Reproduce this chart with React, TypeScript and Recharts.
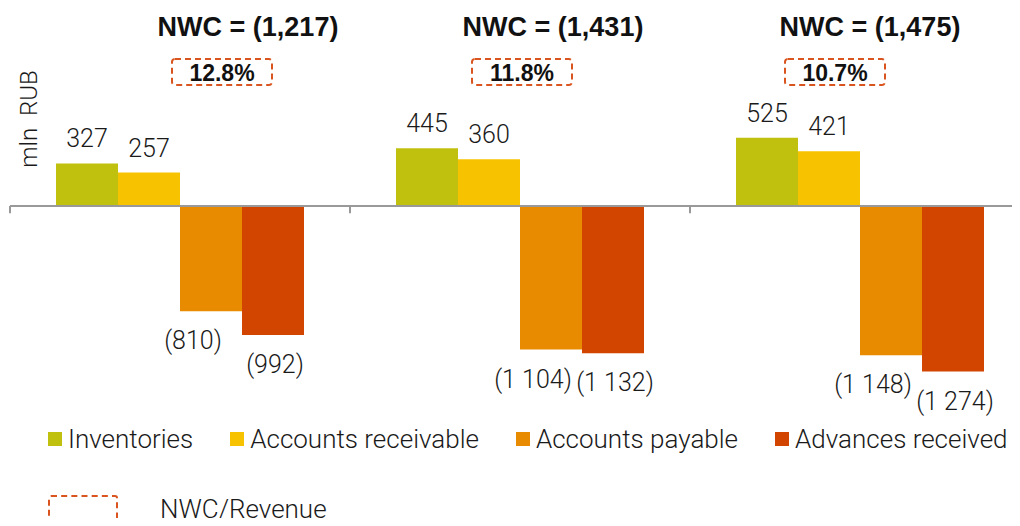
import React from 'react';
import { BarChart, Bar, XAxis, YAxis, ReferenceLine, ReferenceDot, LabelList } from 'recharts';

// periods are not labelled on the slide
const periods = ['Period 1', 'Period 2', 'Period 3'];
const inventories = [327, 445, 525];
const receivables = [257, 360, 421];
const payables = [-810, -1104, -1148];
const advances = [-992, -1132, -1274];
const nwc = [-1217, -1431, -1475];
const nwcToRevenue = [12.8, 11.8, 10.7];

const SERIES = [
  { key: 'inventories', name: 'Inventories', color: '#C0C00F', dx: 0 },
  { key: 'receivables', name: 'Accounts receivable', color: '#F7C300', dx: 0 },
  { key: 'payables', name: 'Accounts payable', color: '#E98B00', dx: -18 },
  { key: 'advances', name: 'Advances received', color: '#D24500', dx: 2 },
];

const data = periods.map((period, i) => ({
  period,
  inventories: inventories[i],
  receivables: receivables[i],
  payables: payables[i],
  advances: advances[i],
}));

// heading / box offsets from the group centre, as on the slide
const HEAD_DX = [68, 33, 10];
const BOX_DX = [42, 2, -25];

const LIGHT = 'Roboto, "Liberation Sans", sans-serif';
const BOLD = '"Liberation Sans", Arial, sans-serif';
const DASH = '#D9541E';

const spaced = (n: number) => String(Math.abs(n)).replace(/\B(?=(\d{3})+(?!\d))/g, ' ');
const commas = (n: number) => String(Math.abs(n)).replace(/\B(?=(\d{3})+(?!\d))/g, ',');

const fmtValue = (v: number) => (v < 0 ? `(${spaced(v)})` : spaced(v));

const renderValue = (dx: number) => (props: any) => {
  const { x, y, width, height, value } = props;
  const top = Math.min(y, y + height);
  const bottom = Math.max(y, y + height);
  const cx = x + width / 2 + (value < 0 ? dx : 0);
  const ty = value < 0 ? bottom + 38 : top - 16;
  return (
    <text x={cx} y={ty} textAnchor="middle" fontFamily={LIGHT} fontWeight={300} fontSize={25} fill="#1a1a1a">
      {fmtValue(value)}
    </text>
  );
};

const heading = (i: number) => (props: any) => {
  const { cx, cy } = props;
  const bx = cx + BOX_DX[i];
  return (
    <g>
      <text x={cx + HEAD_DX[i]} y={cy + 12} textAnchor="middle" fontFamily={BOLD} fontWeight="bold" fontSize={27} fill="#111">
        {`NWC = (${commas(nwc[i])})`}
      </text>
      <rect x={bx - 50} y={cy + 35} width={100} height={26} rx={3} fill="none" stroke={DASH} strokeWidth={2} strokeDasharray="6 4" />
      <text x={bx} y={cy + 57} textAnchor="middle" fontFamily={BOLD} fontWeight="bold" fontSize={23} fill="#111">
        {`${nwcToRevenue[i].toFixed(1)}%`}
      </text>
    </g>
  );
};

const NwcLegend: React.FC = () => (
  <div style={{ position: 'absolute', left: 48, top: 424, fontFamily: LIGHT, fontWeight: 300, fontSize: 26, color: '#1a1a1a' }}>
    <div style={{ display: 'flex', alignItems: 'center', whiteSpace: 'nowrap' }}>
      {SERIES.map((s) => (
        <div key={s.key} style={{ display: 'flex', alignItems: 'center', marginRight: 37 }}>
          <span style={{ width: 14, height: 14, background: s.color, marginRight: 6, display: 'inline-block' }} />
          <span>{s.name}</span>
        </div>
      ))}
    </div>
    <div style={{ display: 'flex', alignItems: 'center', marginTop: 40 }}>
      <span style={{ width: 66, height: 24, border: `2px dashed ${DASH}`, borderRadius: 3, marginRight: 42, display: 'inline-block' }} />
      <span>NWC/Revenue</span>
    </div>
  </div>
);

const App: React.FC = () => {
  return (
    <div style={{ position: 'relative', width: 1020, height: 526, margin: -8, overflow: 'hidden', background: '#fff' }}>
      <BarChart
        width={1030}
        height={526}
        data={data}
        margin={{ top: 24, right: 0, bottom: 138, left: 10 }}
        barGap={0}
        barSize={62}
      >
        <XAxis dataKey="period" hide />
        <YAxis domain={[-1400, 1400]} allowDataOverflow hide />
        {SERIES.map((s) => (
          <Bar key={s.key} dataKey={s.key} name={s.name} fill={s.color} isAnimationActive={false}>
            <LabelList dataKey={s.key} content={renderValue(s.dx)} />
          </Bar>
        ))}
        <ReferenceLine y={0} stroke="#999" strokeWidth={2} />
        {periods.map((p) => (
          <ReferenceLine
            key={`tick-${p}`}
            position="start"
            segment={[{ x: p, y: 0 }, { x: p, y: -55 }]}
            stroke="#999"
            strokeWidth={2}
          />
        ))}
        {periods.map((p, i) => (
          <ReferenceDot key={`head-${p}`} x={p} y={1400} r={0} shape={heading(i)} />
        ))}
      </BarChart>
      <div
        style={{
          position: 'absolute',
          left: 29,
          top: 119,
          transform: 'translate(-50%, -50%) rotate(-90deg)',
          fontFamily: LIGHT,
          fontWeight: 300,
          fontSize: 24,
          color: '#1a1a1a',
          whiteSpace: 'pre',
        }}
      >
        mln  RUB
      </div>
      <NwcLegend />
    </div>
  );
};

export default App;
